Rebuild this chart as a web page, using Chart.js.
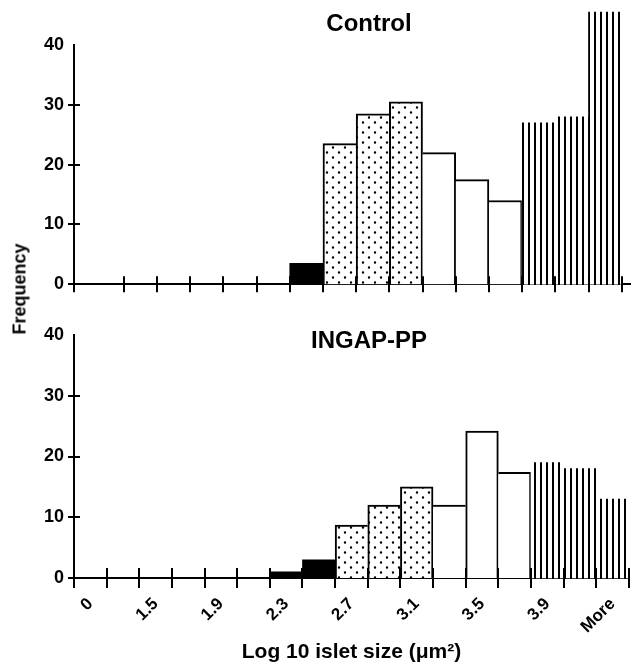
<!DOCTYPE html>
<html>
<head>
    <title>Log 10 islet size histograms</title>
    <script src="https://cdn.jsdelivr.net/npm/chart.js"></script>
    <style>
        html, body { margin: 0; padding: 0; overflow: hidden; background: #fff; }
        body {
            width: 641px;
            height: 665px;
            position: relative;
            font-family: 'Liberation Sans', Arial, sans-serif;
            font-weight: bold;
            color: #000;
        }
        canvas { position: absolute; left: 0; }
        #controlChart { top: 0; }
        #ingapChart { top: 305px; }
        .panel-title {
            position: absolute;
            font-size: 24px;
            transform: translate(-50%, -50%);
            white-space: nowrap;
        }
        #yTitle {
            position: absolute;
            left: 20px;
            top: 289px;
            font-size: 18px;
            transform: translate(-50%, -50%) rotate(-90deg);
            white-space: nowrap;
        }
    </style>
</head>
<body>
    <canvas id="controlChart" width="641" height="305"></canvas>
    <canvas id="ingapChart" width="643" height="360"></canvas>
    <div class="panel-title" style="left: 369px; top: 23px;">Control</div>
    <div class="panel-title" style="left: 369px; top: 340px;">INGAP-PP</div>
    <div id="yTitle">Frequency</div>
    <script>
        // bins (only every other one is labelled on the axis)
        const binLabels = ['0', '', '1.5', '', '1.9', '', '2.3', '', '2.7', '', '3.1', '', '3.5', '', '3.9', '', 'More'];
        const controlCounts = [0, 0, 0, 0, 0, 0, 0, 3.5, 23.5, 28.5, 30.5, 22, 17.5, 14, 27, 28, 45.5];
        const ingapCounts = [0, 0, 0, 0, 0, 0, 1, 3, 8.7, 12, 15, 12, 24.2, 17.4, 19, 18, 13];
        const yMax = 40;
        const yStep = 10;
        const xTitle = 'Log 10 islet size (\u03bcm\u00b2)';

        const makePattern = (w, h, draw) => {
            const c = document.createElement('canvas');
            c.width = w;
            c.height = h;
            const g = c.getContext('2d');
            g.fillStyle = '#fff';
            g.fillRect(0, 0, w, h);
            g.fillStyle = '#000';
            draw(g);
            return g.createPattern(c, 'repeat');
        };

        const dotPattern = makePattern(12, 10, g => {
            g.beginPath();
            g.arc(3, 2.5, 1.2, 0, Math.PI * 2);
            g.arc(9, 7.5, 1.2, 0, Math.PI * 2);
            g.fill();
        });
        const hatchPattern = makePattern(6, 4, g => g.fillRect(0, 0, 2, 4));

        const fills = {
            none: 'rgba(0,0,0,0)',
            solid: '#000',
            dots: dotPattern,
            open: '#fff',
            lines: hatchPattern
        };
        // fill style of each size class
        const binFill = i => i < 6 ? 'none' : i < 8 ? 'solid' : i < 11 ? 'dots' : i < 14 ? 'open' : 'lines';
        const outlined = i => binFill(i) === 'dots' || binFill(i) === 'open';

        // shared edges are drawn once, by the taller bar
        const borderWidths = counts => counts.map((v, i) => {
            if (!outlined(i)) return 0;
            const left = (!outlined(i - 1) || v >= counts[i - 1]) ? 2 : 0;
            const right = (!outlined(i + 1) || v > counts[i + 1]) ? 2 : 0;
            return { top: 2, left: left, right: right, bottom: 0 };
        });

        // tick marks that cross the axis lines
        const crossTicks = {
            id: 'crossTicks',
            afterDraw(chart, args, opts) {
                const { ctx, scales: { x, y } } = chart;
                ctx.save();
                ctx.strokeStyle = '#000';
                ctx.lineWidth = 2;
                ctx.beginPath();
                y.ticks.forEach(t => {
                    if (t.value >= y.max) return;
                    const py = Math.round(y.getPixelForValue(t.value));
                    ctx.moveTo(y.right - opts.yLen, py);
                    ctx.lineTo(y.right + opts.yLen, py);
                });
                opts.xMarks.forEach(v => {
                    const px = Math.round(x.getPixelForValue(v));
                    ctx.moveTo(px, x.top - opts.xLen);
                    ctx.lineTo(px, x.top + opts.xLen);
                });
                ctx.stroke();
                ctx.restore();
            }
        };

        const yScale = {
            min: 0,
            max: yMax,
            ticks: { stepSize: yStep, padding: 10, color: '#000', font: { size: 18, weight: 'bold' } },
            grid: { display: false, drawTicks: false },
            border: { color: '#000', width: 2 },
            afterFit: s => { s.width = 74; }
        };

        const barDataset = (data, counts) => ({
            data: data,
            backgroundColor: counts.map((v, i) => fills[binFill(i)]),
            borderColor: '#000',
            borderWidth: borderWidths(counts),
            borderSkipped: false,
            barPercentage: 1,
            categoryPercentage: 1,
            clip: false
        });

        Chart.defaults.font.family = "'Liberation Sans', Arial, sans-serif";
        Chart.defaults.color = '#000';

        // Control: bins are drawn half a bin further left than in the lower panel
        new Chart(document.getElementById('controlChart'), {
            type: 'bar',
            data: {
                datasets: [barDataset(controlCounts.map((v, i) => ({ x: i, y: v })), controlCounts)]
            },
            options: {
                responsive: false,
                animation: false,
                events: [],
                layout: { padding: { top: 45, right: 11, left: 0, bottom: 0 } },
                plugins: {
                    legend: { display: false },
                    tooltip: { enabled: false },
                    crossTicks: {
                        xMarks: [0].concat(binLabels.slice(1).map((l, i) => i + 1.5)),
                        xLen: 8,
                        yLen: 6
                    }
                },
                scales: {
                    x: {
                        type: 'linear',
                        min: 0,
                        max: 16.75,
                        offset: false,
                        grid: { display: false, drawTicks: false },
                        ticks: { display: false },
                        border: { color: '#000', width: 2 },
                        afterFit: s => { s.height = 16; }
                    },
                    y: yScale
                }
            },
            plugins: [crossTicks]
        });

        // INGAP-PP
        new Chart(document.getElementById('ingapChart'), {
            type: 'bar',
            data: {
                labels: binLabels,
                datasets: [barDataset(ingapCounts, ingapCounts)]
            },
            options: {
                responsive: false,
                animation: false,
                events: [],
                layout: { padding: { top: 30, right: 0, left: 0, bottom: 0 } },
                plugins: {
                    legend: { display: false },
                    tooltip: { enabled: false },
                    crossTicks: {
                        xMarks: [-0.5].concat(binLabels.map((l, i) => i + 0.5)),
                        xLen: 10,
                        yLen: 6
                    }
                },
                scales: {
                    x: {
                        offset: true,
                        grid: { display: false, drawTicks: false, offset: true },
                        ticks: {
                            autoSkip: false,
                            minRotation: 45,
                            maxRotation: 45,
                            padding: 16,
                            color: '#000',
                            font: { size: 17, weight: 'bold' }
                        },
                        title: {
                            display: true,
                            text: xTitle,
                            color: '#000',
                            font: { size: 21, weight: 'bold' },
                            padding: 0
                        },
                        border: { color: '#000', width: 2 },
                        afterFit: s => { s.height = 87; }
                    },
                    y: yScale
                }
            },
            plugins: [crossTicks]
        });
    </script>
</body>
</html>
